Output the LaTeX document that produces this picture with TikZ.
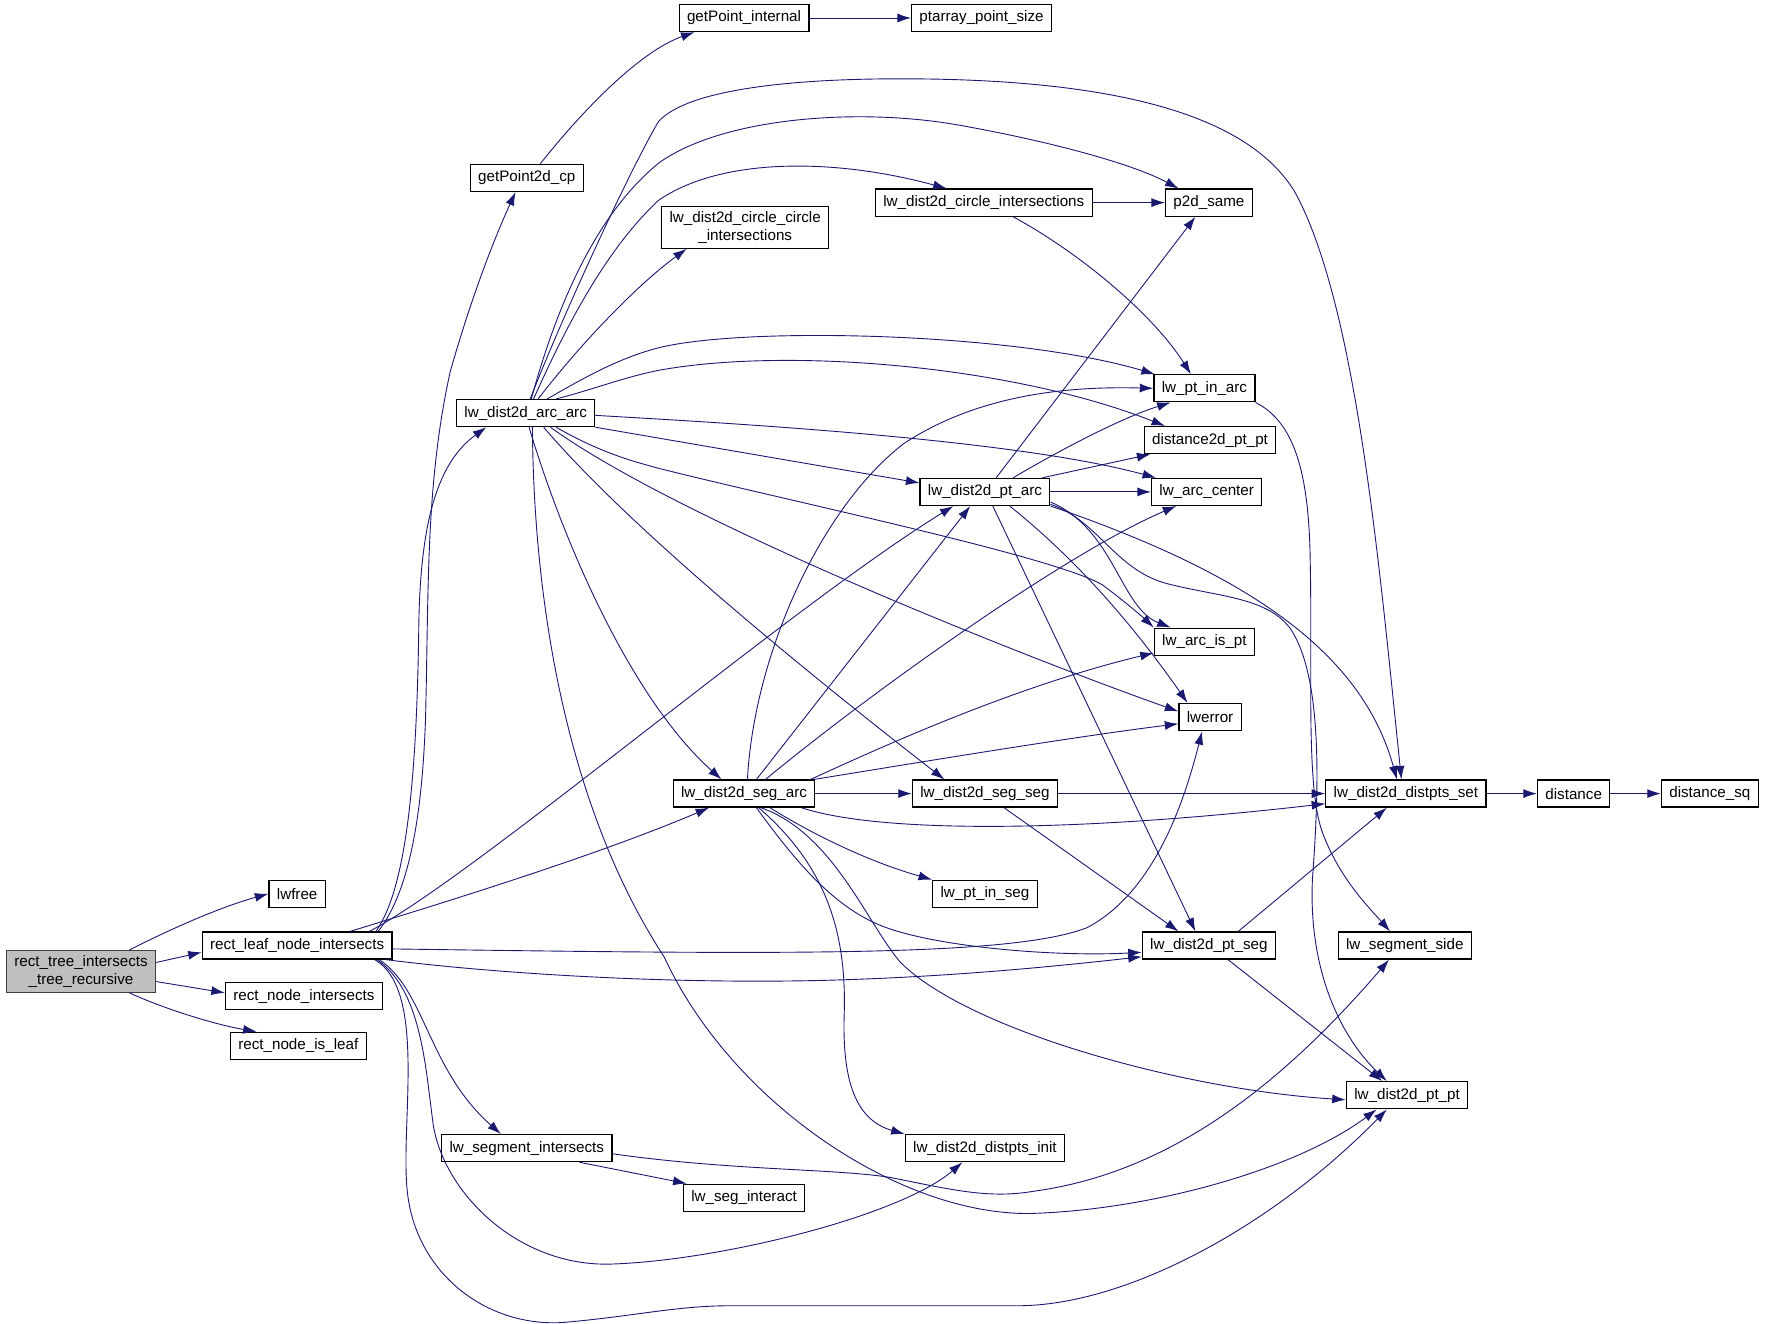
\documentclass[tikz,border=0pt]{standalone}
\usepackage{fontspec}
\setmainfont{Liberation Sans}
\usetikzlibrary{arrows.meta}
\definecolor{callblue}{HTML}{191970}
\definecolor{rootgray}{HTML}{BFBFBF}
\tikzset{
fn/.style={draw=black,fill=white,line width=1.1pt,minimum height=24pt,inner xsep=7pt,inner ysep=2pt,font=\fontsize{13.5}{16}\selectfont},
fntwo/.style={fn,align=center,minimum height=37pt},
fnroot/.style={fntwo,fill=rootgray,draw=black!75},
call/.style={draw=callblue,line width=0.8pt,-{Latex[length=12pt,width=8pt]}}
}
\begin{document}
\begin{tikzpicture}[x=1pt,y=-1pt]
\useasboundingbox(0,0)rectangle(1568,1176);
\node[fnroot](rtree)at(72,863){rect\_tree\_intersects\\\_tree\_recursive};
\node[fn](lwfree)at(264,794){lwfree};
\node[fn](rleaf)at(264,840){rect\_leaf\_node\_intersects};
\node[fn](rnint)at(270,885){rect\_node\_intersects};
\node[fn](rnleaf)at(265,929){rect\_node\_is\_leaf};
\node[fn](gp2d)at(468,158){getPoint2d\_cp};
\node[fn](gpint)at(661,16){getPoint\_internal};
\node[fn](ptsize)at(872,16){ptarray\_point\_size};
\node[fn](arcarc)at(467,367){lw\_dist2d\_arc\_arc};
\node[fntwo](cc)at(662,202){lw\_dist2d\_circle\_circle\\\_intersections};
\node[fn](circint)at(874,180){lw\_dist2d\_circle\_intersections};
\node[fn](psame)at(1074,180){p2d\_same};
\node[fn](ptinarc)at(1070,345){lw\_pt\_in\_arc};
\node[fn](d2pp)at(1075,391){distance2d\_pt\_pt};
\node[fn](ptarc)at(875,437){lw\_dist2d\_pt\_arc};
\node[fn](arccen)at(1072,437){lw\_arc\_center};
\node[fn](arcispt)at(1070,570){lw\_arc\_is\_pt};
\node[fn](lwerr)at(1075,637){lwerror};
\node[fn](segarc)at(661,705){lw\_dist2d\_seg\_arc};
\node[fn](segseg)at(875,705){lw\_dist2d\_seg\_seg};
\node[fn](distset)at(1249,705){lw\_dist2d\_distpts\_set};
\node[fn](dist)at(1398,705){distance};
\node[fn](distsq)at(1519,705){distance\_sq};
\node[fn](ptinseg)at(875,794){lw\_pt\_in\_seg};
\node[fn](ptseg)at(1074,840){lw\_dist2d\_pt\_seg};
\node[fn](segside)at(1248,840){lw\_segment\_side};
\node[fn](ptpt)at(1250,973){lw\_dist2d\_pt\_pt};
\node[fn](segint)at(468,1020){lw\_segment\_intersects};
\node[fn](distinit)at(875,1020){lw\_dist2d\_distpts\_init};
\node[fn](seginter)at(661,1064){lw\_seg\_interact};
\draw[call]([xshift=43pt]rtree.north)..controls(150,826)and(195,806)..(lwfree.west);
\draw[call]([yshift=8pt]rtree.east)--([yshift=-6pt]rleaf.west);
\draw[call]([yshift=-9pt]rtree.east)--([yshift=3pt]rnint.west);
\draw[call]([xshift=43pt]rtree.south)..controls(150,898)and(195,911)..([xshift=-37pt]rnleaf.north);
\draw[call]([xshift=47pt]rleaf.north)..controls(400,800)and(530,760)..([xshift=-31pt]segarc.south);
\draw[call]([xshift=64pt]rleaf.north)..controls(420,780)and(700,540)..([xshift=-28pt]ptarc.south);
\draw[call]([xshift=72pt]rleaf.north)..controls(365,790)and(375,720)..(378,640)..controls(381,520)and(378,430)..(400,330)..controls(420,260)and(440,210)..([xshift=-10pt]gp2d.south);
\draw[call]([xshift=70pt]rleaf.north)..controls(360,790)and(370,700)..(372,560)..controls(373,460)and(390,410)..([xshift=-35pt]arcarc.south);
\draw[call]([yshift=-3pt]rleaf.east)..controls(700,848)and(900,850)..(966,824)..controls(1030,790)and(1055,700)..([xshift=-7pt]lwerr.south);
\draw[call]([xshift=79pt]rleaf.south)..controls(450,866)and(600,874)..(729,871)..controls(850,868)and(950,857)..([yshift=-10pt]ptseg.west);
\draw[call]([xshift=73pt]rleaf.south)..controls(378,880)and(380,950)..([xshift=-23pt]segint.north);
\draw[call]([xshift=71pt]rleaf.south)..controls(375,880)and(378,950)..(385,1000)..controls(395,1060)and(460,1125)..(542,1123)..controls(640,1120)and(800,1080)..([xshift=-20pt]distinit.south);
\draw[call]([xshift=69pt]rleaf.south)..controls(380,880)and(355,1000)..(362,1060)..controls(370,1130)and(430,1178)..(498,1175)..controls(560,1170)and(600,1160)..(648,1160)--(904,1160)..controls(1000,1160)and(1130,1090)..([xshift=-18pt]ptpt.south);
\draw[call]([xshift=12pt]gp2d.north)..controls(520,95)and(570,45)..([xshift=-44pt]gpint.south);
\draw[call](gpint.east)--(ptsize.west);
\draw[call]([xshift=4pt]arcarc.north)..controls(500,280)and(560,150)..(585,108)..controls(610,80)and(700,70)..(800,70)..controls(1000,70)and(1110,105)..(1150,170)..controls(1205,270)and(1225,500)..([xshift=-4pt]distset.north);
\draw[call]([xshift=5pt]arcarc.north)..controls(495,270)and(530,190)..(585,145)..controls(640,105)and(760,95)..(851,111)..controls(930,125)and(1005,145)..([xshift=-27pt]psame.north);
\draw[call]([xshift=7pt]arcarc.north)..controls(505,285)and(540,220)..(585,178)..controls(640,140)and(740,140)..([xshift=-33pt]circint.north);
\draw[call]([xshift=11pt]arcarc.north)..controls(520,300)and(570,250)..([xshift=-52pt]cc.south);
\draw[call]([xshift=19pt]arcarc.north)..controls(520,335)and(550,318)..(585,309)..controls(660,290)and(900,295)..([xshift=-44pt]ptinarc.north);
\draw[call]([xshift=27pt]arcarc.north)..controls(530,345)and(555,335)..(585,329)..controls(700,308)and(900,325)..([xshift=-40pt]d2pp.north);
\draw[call]([yshift=-2pt]arcarc.east)..controls(650,376)and(900,390)..([xshift=-45pt]arccen.north);
\draw[call](arcarc.south east)--([yshift=8pt]ptarc.west);
\draw[call]([xshift=27pt]arcarc.south)..controls(530,400)and(555,408)..(585,416)..controls(700,445)and(940,495)..(980,520)..controls(1000,535)and(1015,548)..([xshift=-45pt]arcispt.north);
\draw[call]([xshift=22pt]arcarc.south)..controls(600,460)and(900,580)..([yshift=5pt]lwerr.west);
\draw[call]([xshift=16pt]arcarc.south)..controls(560,470)and(720,600)..([xshift=-36pt]segseg.north);
\draw[call]([xshift=3pt]arcarc.south)..controls(500,480)and(560,620)..([xshift=-20pt]segarc.north);
\draw[call]([xshift=6pt]arcarc.south)..controls(474,540)and(505,720)..(590,850)..controls(650,980)and(800,1080)..(916,1078)..controls(1020,1075)and(1150,1040)..([xshift=-27pt]ptpt.south);
\draw[call](circint.east)--(psame.west);
\draw[call]([xshift=26pt]circint.south)..controls(960,225)and(1025,280)..([xshift=-12pt]ptinarc.north);
\draw[call]([xshift=10pt]ptarc.north)--([xshift=-12pt]psame.south);
\draw[call]([xshift=25pt]ptarc.north)..controls(950,395)and(1000,370)..([xshift=-30pt]ptinarc.south);
\draw[call]([xshift=51pt]ptarc.north)--([xshift=-53pt]d2pp.south);
\draw[call](ptarc.east)--(arccen.west);
\draw[call]([yshift=-9pt]ptarc.east)..controls(990,470)and(995,540)..([xshift=-30pt]arcispt.north);
\draw[call]([xshift=22pt]ptarc.south)..controls(960,500)and(1010,560)..([xshift=-20pt]lwerr.north);
\draw[call]([xshift=7pt]ptarc.south)--([xshift=-12pt]ptseg.north);
\draw[call](ptarc.south east)..controls(1110,510)and(1210,580)..([xshift=-8pt]distset.north);
\draw[call]([yshift=-11pt]ptarc.east)..controls(975,462)and(990,505)..(1035,518)..controls(1080,530)and(1125,530)..(1146,558)..controls(1175,600)and(1172,700)..(1166,780)..controls(1162,860)and(1190,920)..([xshift=-18pt]ptpt.north);
\draw[call](ptinarc.south east)..controls(1150,375)and(1163,420)..(1164,500)..controls(1166,600)and(1160,700)..(1175,740)..controls(1190,780)and(1215,805)..([xshift=-13pt]segside.north);
\draw[call]([xshift=3pt]segarc.north)..controls(670,580)and(730,450)..(803,394)..controls(870,350)and(950,343)..(ptinarc.west);
\draw[call]([xshift=11pt]segarc.north)--([xshift=-13pt]ptarc.south);
\draw[call]([xshift=19pt]segarc.north)..controls(780,610)and(950,490)..([xshift=-27pt]arccen.south);
\draw[call]([xshift=59pt]segarc.north)..controls(780,665)and(900,610)..([yshift=-10pt]arcispt.west);
\draw[call]([xshift=62pt]segarc.north)..controls(800,680)and(950,655)..([yshift=-6pt]lwerr.west);
\draw[call](segarc.east)--(segseg.west);
\draw[call]([xshift=51pt]segarc.south)..controls(780,740)and(950,740)..([yshift=-9pt]distset.west);
\draw[call]([xshift=23pt]segarc.south)..controls(720,740)and(770,765)..(ptinseg.north west);
\draw[call]([xshift=11pt]segarc.south)..controls(710,770)and(745,810)..(790,825)..controls(840,842)and(940,850)..([yshift=-6pt]ptseg.west);
\draw[call]([xshift=15pt]segarc.south)..controls(740,740)and(770,820)..(800,855)..controls(860,915)and(1050,968)..([yshift=-4pt]ptpt.west);
\draw[call]([xshift=13pt]segarc.south)..controls(735,770)and(752,830)..(750,900)..controls(748,960)and(760,995)..(distinit.north west);
\draw[call](segseg.east)--(distset.west);
\draw[call]([xshift=17pt]segseg.south)--([xshift=-27pt]ptseg.north);
\draw[call]([xshift=26pt]ptseg.north)--([xshift=-17pt]distset.south);
\draw[call]([xshift=17pt]ptseg.south)--([xshift=-22pt]ptpt.north);
\draw[call](distset.east)--(dist.west);
\draw[call](dist.east)--(distsq.west);
\draw[call]([xshift=47pt]segint.south)--([xshift=-51pt]seginter.north);
\draw[call]([yshift=-5pt]segint.east)..controls(650,1040)and(740,1038)..(791,1046)..controls(850,1058)and(880,1065)..(920,1058)..controls(1050,1040)and(1150,950)..([xshift=-14pt]segside.south);
\end{tikzpicture}
\end{document}
